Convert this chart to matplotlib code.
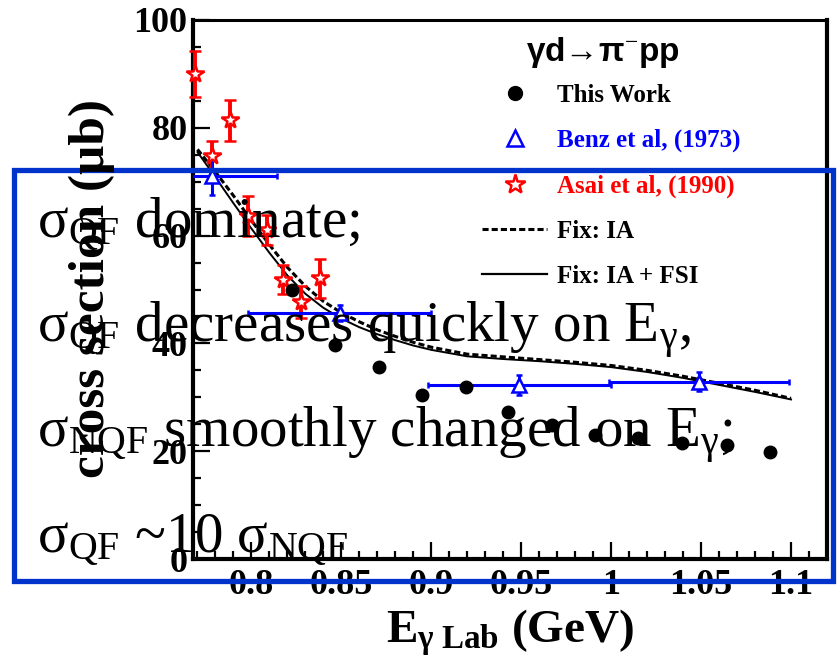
import matplotlib
matplotlib.use('Agg')
import matplotlib.pyplot as plt
from matplotlib.lines import Line2D
from matplotlib.patches import Rectangle
from matplotlib.ticker import MultipleLocator

plt.rcParams['font.family'] = 'Liberation Serif'
plt.rcParams['mathtext.fontset'] = 'custom'
plt.rcParams['mathtext.rm'] = 'Liberation Serif'
plt.rcParams['mathtext.it'] = 'Liberation Serif:italic'
plt.rcParams['mathtext.bf'] = 'Liberation Serif:bold'

# total cross section, gamma d -> pi- p p (microbarn)
this_x = [0.8228, 0.8467, 0.8711, 0.8950, 0.9194, 0.9428, 0.9672, 0.9911, 1.0150, 1.0394, 1.0644, 1.0883]
this_y = [49.9, 39.7, 35.6, 30.4, 31.9, 27.3, 24.9, 23.0, 22.4, 21.5, 21.2, 19.9]

benz_x = [0.778, 0.849, 0.949, 1.049]
benz_y = [71.1, 45.6, 32.3, 32.9]
benz_xerr = [0.036, 0.051, 0.051, 0.050]
benz_yerr = [3.5, 1.5, 1.9, 1.8]

asai_x = [0.7685, 0.7780, 0.7883, 0.7983, 0.8085, 0.8175, 0.8275, 0.8383]
asai_y = [90.0, 74.7, 81.4, 63.7, 61.0, 51.8, 47.7, 52.1]
asai_err = [4.2, 2.8, 3.8, 3.7, 2.8, 2.7, 3.0, 3.6]

# Fix model curves
fix_x = [0.770, 0.780, 0.790, 0.800, 0.810, 0.820, 0.830, 0.840, 0.850, 0.860, 0.870, 0.880,
         0.890, 0.900, 0.920, 0.940, 0.960, 0.980, 1.000, 1.020, 1.040, 1.060, 1.080, 1.100]
fix_ia = [76.0, 71.8, 67.4, 62.8, 58.3, 54.1, 50.6, 47.8, 45.7, 44.0, 42.5, 41.3,
          40.2, 39.3, 38.0, 37.5, 37.0, 36.5, 35.9, 35.0, 33.9, 32.6, 31.3, 29.8]
fix_fsi = [75.5, 70.8, 66.0, 61.3, 56.8, 52.6, 49.2, 46.6, 44.6, 43.0, 41.7, 40.6,
           39.6, 38.8, 37.6, 37.1, 36.7, 36.2, 35.6, 34.7, 33.6, 32.3, 31.0, 29.6]

xticks = [0.8, 0.85, 0.9, 0.95, 1.0, 1.05, 1.1]
xtick_labels = ['0.8', '0.85', '0.9', '0.95', '1', '1.05', '1.1']
yticks = [0, 20, 40, 60, 80, 100]

notes = [r'$\mathrm{σ}_{\mathrm{QF}}$ dominate;',
         r'$\mathrm{σ}_{\mathrm{QF}}$ decreases quickly on $\mathrm{E}_{\mathrm{γ}}$,',
         r'$\mathrm{σ}_{\mathrm{NQF}}$ smoothly changed on $\mathrm{E}_{\mathrm{γ}}$;',
         r'$\mathrm{σ}_{\mathrm{QF}}$ ~10 $\mathrm{σ}_{\mathrm{NQF}}$']

W, H = 839, 662
fig = plt.figure(figsize=(W / 100, H / 100), dpi=100)
ax = fig.add_axes([193 / W, 1 - 559 / H, (827 - 193) / W, (559 - 20) / H])

ax.plot(fix_x, fix_ia, color='k', ls=(0, (2, 1)), lw=2.2, zorder=3)
ax.plot(fix_x, fix_fsi, color='k', ls='-', lw=1.4, zorder=3)

eb = ax.errorbar(asai_x, asai_y, yerr=asai_err, fmt='*', color='red', mfc='white', mec='red',
                 ms=13, mew=1.8, elinewidth=2.8, capsize=4, capthick=2.8, zorder=4)
for art in [eb[0], *eb[1], *eb[2]]:
    art.set_clip_on(False)

ax.errorbar(benz_x, benz_y, xerr=benz_xerr, yerr=benz_yerr, fmt='^', color='blue', mfc='white',
            mec='blue', ms=10, mew=1.8, elinewidth=2.2, capsize=2.5, capthick=2.2, zorder=4)

ax.plot(this_x, this_y, 'o', color='k', ms=9, zorder=5)

ax.set_xlim(0.7675, 1.12)
ax.set_ylim(0, 100)
ax.set_xticks(xticks, xtick_labels, fontweight='bold')
ax.set_yticks(yticks, [str(v) for v in yticks], fontweight='bold')
ax.xaxis.set_minor_locator(MultipleLocator(0.01))
ax.yaxis.set_minor_locator(MultipleLocator(5))
ax.tick_params(which='both', direction='in', top=False, right=False, width=1.6)
ax.tick_params(which='major', length=12, labelsize=26)
ax.tick_params(axis='y', which='major', pad=4)
ax.tick_params(axis='x', which='major', pad=7)
ax.tick_params(which='minor', length=6)
for side in ['left', 'bottom', 'right']:
    ax.spines[side].set_linewidth(3)
ax.spines['top'].set_linewidth(2.2)

fig.text(92 / W, 1 - 289 / H, 'cross section (μb)', rotation=90, ha='center', va='center',
         fontsize=37, fontweight='bold')
fig.text(510 / W, 1 - 643 / H, r'$\mathbf{E}_{\mathbf{γ\ Lab}}$ (GeV)', ha='center',
         va='baseline', fontsize=34, fontweight='bold')

# legend: reaction heading plus entries
fig.text(603 / W, 1 - 53 / H, r'γd→π$^{-}$pp', ha='center', va='center',
         family=['Liberation Sans', 'DejaVu Sans'], fontweight='bold', fontsize=24)
handles = [
    Line2D([], [], ls='none', marker='o', color='k', ms=10),
    Line2D([], [], ls='none', marker='^', mfc='white', mec='blue', ms=11, mew=1.8),
    Line2D([], [], ls='none', marker='*', mfc='white', mec='red', ms=15, mew=1.8),
    Line2D([], [], color='k', ls=(0, (2, 1)), lw=2.2),
    Line2D([], [], color='k', ls='-', lw=1.6),
]
labels = ['This Work', 'Benz et al, (1973)', 'Asai et al, (1990)', 'Fix: IA', 'Fix: IA + FSI']
leg = ax.legend(handles, labels, loc='upper left', bbox_to_anchor=(482 / W, 1 - 84 / H),
                bbox_transform=fig.transFigure, frameon=False, borderpad=0,
                borderaxespad=0, handlelength=2.6, handletextpad=0.4, labelspacing=0.88,
                prop={'family': 'Liberation Serif', 'weight': 'bold', 'size': 18})
leg.get_texts()[1].set_color('blue')
leg.get_texts()[2].set_color('red')

# summary notes drawn over the plot
for i, line in enumerate(notes):
    fig.text(37 / W, 1 - (237 + 105 * i) / H, line, ha='left', va='baseline', fontsize=41)

fig.add_artist(Rectangle((14 / W, 1 - 581 / H), (833 - 14) / W, (581 - 170) / H,
                         transform=fig.transFigure, fill=False, ec='#0033cc', lw=3.8))

fig.savefig('out.png', dpi=100)
